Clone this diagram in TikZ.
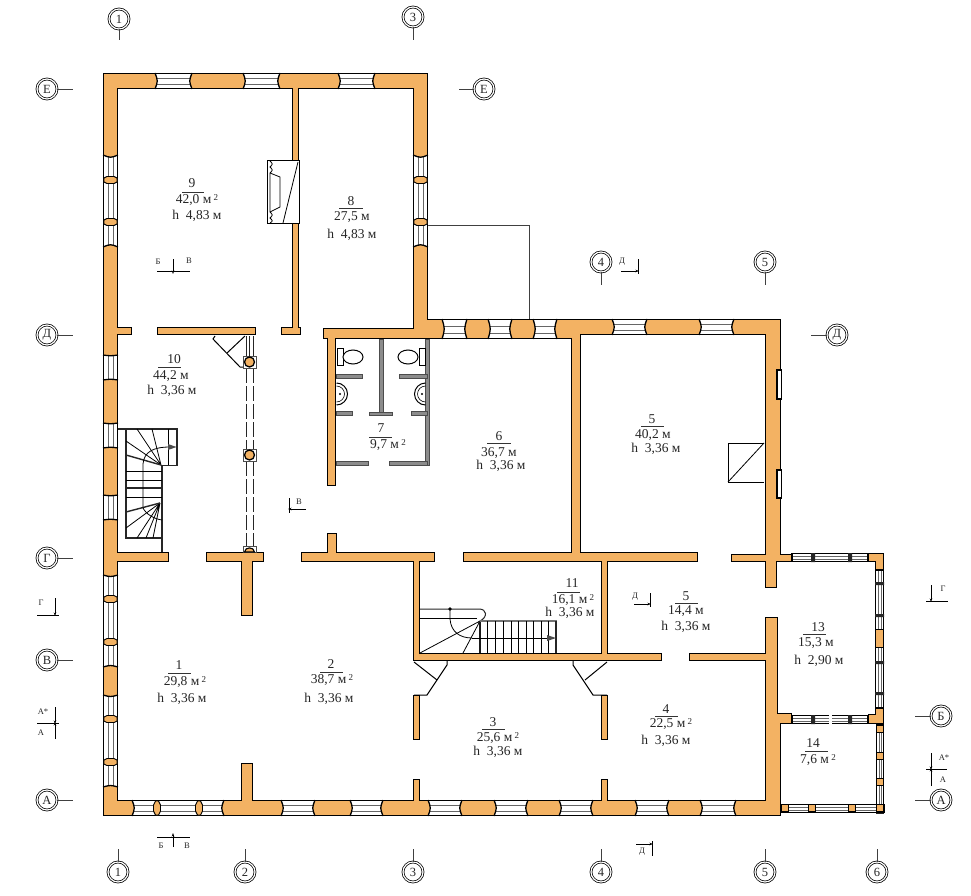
\documentclass[tikz,border=0pt]{standalone}
\usepackage{fontspec}
\setmainfont{Liberation Serif}
\usetikzlibrary{arrows.meta}
\definecolor{wallc}{HTML}{F3B263}
\definecolor{partc}{HTML}{8C8C8C}
\newcommand\sqm{\,\raisebox{3.5pt}{\fontsize{9}{9}\selectfont 2}}
\tikzset{
  x=1pt,y=-1pt,
  lbl/.style={inner sep=0pt,font=\fontsize{13.5}{14}\selectfont,text=black!85},
  seclbl/.style={inner sep=0pt,font=\fontsize{8.5}{9}\selectfont,text=black!85},
  axisnode/.style={circle,draw=black,line width=.75pt,double=white,double distance=1.2pt,
    minimum size=20pt,inner sep=0pt,fill=white,font=\fontsize{12.5}{13}\selectfont,text=black!85},
  axisline/.style={line width=.8pt,draw=black!75},
  secline/.style={line width=.75pt,draw=black},
  thinl/.style={line width=.8pt,draw=black},
  stairl/.style={line width=.8pt,draw=black},
  stairb/.style={line width=1.6pt,draw=black!85},
  tip/.style={-{Stealth[length=3.5pt,width=2.5pt]}},
}
% wall rectangles: two passes give a merged outline
\newcommand\wallset{%
 \R{103}{73}{428}{89}\R{103}{73}{118}{816}\R{413}{73}{428}{339}
 \R{292}{80}{299}{335}
 \R{103}{327}{132}{335}\R{157}{327}{256}{335}\R{281}{327}{301}{335}
 \R{323}{328}{442}{339}\R{327}{328}{336}{486}
 \R{413}{319}{581}{339}\R{570}{319}{781}{335}
 \R{571}{330}{581}{560}\R{765}{319}{781}{560}\R{765}{553}{777}{588}
 \R{103}{552}{169}{562}\R{206}{552}{264}{562}\R{241}{552}{253}{616}
 \R{301}{552}{435}{562}\R{327}{533}{337}{560}\R{413}{555}{420}{660}
 \R{463}{552}{698}{562}\R{601}{555}{608}{660}\R{731}{554}{792}{562}
 \R{413}{653}{662}{661}\R{689}{653}{770}{661}
 \R{765}{617}{778}{816}\R{765}{713}{781}{816}\R{770}{713}{792}{724}
 \R{413}{695}{420}{740}\R{601}{695}{608}{740}
 \R{103}{800}{781}{816}\R{241}{763}{253}{805}\R{413}{779}{420}{805}\R{601}{779}{608}{805}
 \R{868}{553}{884}{562}\R{875}{553}{884}{570}\R{875}{708}{884}{724}\R{868}{714}{884}{724}
}
% horizontal window: x1 x2 y1 y2 bulge
\newcommand\WinH[5]{%
 \path[fill=white] (#1,#3) .. controls (#1+#5,{(#3+#4)/2}) .. (#1,#4) -- (#2,#4) .. controls (#2-#5,{(#3+#4)/2}) .. (#2,#3) -- cycle;
 \draw[line width=.7pt,black!60] (#1+#5*.5,#3+.36*#4-.36*#3) -- (#2-#5*.5,#3+.36*#4-.36*#3)
   (#1+#5*.5,#3+.72*#4-.72*#3) -- (#2-#5*.5,#3+.72*#4-.72*#3);
 \draw[line width=1.5pt] (#1-1,#3+.7) -- (#2+1,#3+.7) (#1-1,#4-.7) -- (#2+1,#4-.7);
 \draw[line width=1.3pt] (#1,#3) .. controls (#1+#5,{(#3+#4)/2}) .. (#1,#4)
   (#2,#3) .. controls (#2-#5,{(#3+#4)/2}) .. (#2,#4);
}
% vertical window: y1 y2 x1 x2 bulge
\newcommand\WinV[5]{%
 \path[fill=white] (#3,#1) .. controls ({(#3+#4)/2},#1+#5) .. (#4,#1) -- (#4,#2) .. controls ({(#3+#4)/2},#2-#5) .. (#3,#2) -- cycle;
 \draw[line width=.7pt,black!60] (#3+.36*#4-.36*#3,#1+#5*.5) -- (#3+.36*#4-.36*#3,#2-#5*.5)
   (#3+.72*#4-.72*#3,#1+#5*.5) -- (#3+.72*#4-.72*#3,#2-#5*.5);
 \draw[line width=1.5pt] (#3+.7,#1-1) -- (#3+.7,#2+1) (#4-.7,#1-1) -- (#4-.7,#2+1);
 \draw[line width=1.3pt] (#3,#1) .. controls ({(#3+#4)/2},#1+#5) .. (#4,#1)
   (#3,#2) .. controls ({(#3+#4)/2},#2-#5) .. (#4,#2);
}
% small pier in a vertical wall: yc x1 x2
\newcommand\PierV[3]{%
 \filldraw[fill=wallc,draw=black,line width=.9pt] (#2+1,#1-2) -- (#2+4,#1-3.5) -- (#3-4,#1-3.5) -- (#3-1,#1-2) -- (#3-1,#1+2) -- (#3-4,#1+3.5) -- (#2+4,#1+3.5) -- (#2+1,#1+2) -- cycle;
}
% small pier in a horizontal wall: xc y1 y2
\newcommand\PierH[3]{%
 \filldraw[fill=wallc,draw=black,line width=.9pt] (#1-1.5,#2+1) -- (#1+1.5,#2+1) -- (#1+3.5,#2+5) -- (#1+3.5,#3-5) -- (#1+1.5,#3-1) -- (#1-1.5,#3-1) -- (#1-3.5,#3-5) -- (#1-3.5,#2+5) -- cycle;
}
\newcommand\SqP[2]{\filldraw[fill=wallc,draw=black,line width=.9pt] (#1-3.5,#2-3.5) rectangle (#1+3.5,#2+3.5);}
\newcommand\Lab[4]{\node[lbl] (#1) at (#2,#3) {#4};}
\newcommand\Sec[4]{\node[seclbl] (#1) at (#2,#3) {#4};}
\newcommand\Bar[3]{\draw[line width=.8pt,black!80] (#1,#3) -- (#2,#3);}
\newcommand\Axis[6]{\node[axisnode] (#1) at (#2,#3) {#4}; \coordinate (#1e) at (#5,#6); \draw[axisline] (#1) -- (#1e);}
\newcommand\Part[4]{\filldraw[fill=partc,draw=black!70,line width=.5pt] (#1,#2) rectangle (#3,#4);}
\begin{document}
\begin{tikzpicture}
\useasboundingbox (0,0) rectangle (971,896);
\fill[white] (0,0) rectangle (971,896);

% leader line
\draw[line width=.7pt,black!75] (428,225) -- (529,225) -- (529,320);

% walls
\begin{scope}
\def\R#1#2#3#4{\fill[black] (#1,#2) rectangle (#3,#4);}
\wallset
\def\R#1#2#3#4{\fill[wallc] (#1+1.4,#2+1.4) rectangle (#3-1.4,#4-1.4);}
\wallset
\end{scope}

% top row windows
\WinH{155}{192}{73}{89}{3}\WinH{243}{280}{73}{89}{3}\WinH{338}{375}{73}{89}{3}
% wing top windows
\WinH{442}{467}{319}{339}{3}\WinH{488}{512}{319}{339}{3}\WinH{533}{557}{319}{339}{3}
\WinH{612}{647}{319}{335}{3}\WinH{699}{734}{319}{335}{3}
% upper walls, side windows
\WinV{155}{247}{103}{118}{3}\PierV{180}{103}{118}\PierV{222}{103}{118}
\WinV{155}{247}{413}{428}{3}\PierV{180}{413}{428}\PierV{222}{413}{428}
% left wall
\WinV{355}{380}{103}{118}{1}\WinV{423}{448}{103}{118}{1}\WinV{495}{520}{103}{118}{1}
\WinV{575}{667}{103}{118}{2}\PierV{599}{103}{118}\PierV{642}{103}{118}
\WinV{695}{787}{103}{118}{2}\PierV{719}{103}{118}\PierV{762}{103}{118}
% bottom row
\WinH{132}{224}{800}{816}{3}\PierH{157}{800}{816}\PierH{199}{800}{816}
\WinH{281}{315}{800}{816}{3}\WinH{350}{383}{800}{816}{3}\WinH{428}{462}{800}{816}{3}
\WinH{494}{528}{800}{816}{3}\WinH{559}{593}{800}{816}{3}\WinH{635}{669}{800}{816}{3}\WinH{700}{736}{800}{816}{3}
% small windows in right wall of room 5
\filldraw[fill=white,draw=black,line width=1.2pt] (777,370) rectangle (781.5,399);
\filldraw[fill=white,draw=black,line width=1.2pt] (777,470) rectangle (781.5,498);
% pavilion
\WinH{792}{868}{553}{562}{0}
\fill[black!85] (811,553) rectangle (815,562) (848,553) rectangle (852,562);
\WinV{570}{708}{875}{884}{0}
\fill[black!85] (875,582) rectangle (884,585) (875,614) rectangle (884,617) (875,661) rectangle (884,664) (875,692) rectangle (884,695);
\filldraw[fill=wallc,draw=black,line width=1pt] (875.5,629) rectangle (883.5,647);
\WinH{792}{868}{715}{724}{0}
\fill[white] (828.5,714) rectangle (832,725);
\fill[black!85] (811,715) rectangle (815,724) (848,715) rectangle (852,724);
\WinV{724}{813}{876}{884}{0}
\WinH{781}{884}{804}{813}{0}
\SqP{880}{729}\SqP{880}{756}\SqP{880}{782}\SqP{880}{808}
\SqP{785}{808}\SqP{812}{808}\SqP{852}{808}

% fireplace
\filldraw[fill=white,draw=black,line width=1pt] (267,161) rectangle (299,223);
\draw[thinl] (270,161) .. controls (273,164) .. (270,167) .. controls (273,170) .. (270,173) -- (270,212)
  .. controls (273,215) .. (270,218) .. controls (273,221) .. (270,223);
\draw[thinl] (270,173) -- (280,177) -- (280,207) -- (270,212);
\draw[thinl] (298,162) -- (283,223);

% door leaves
\draw[thinl,line width=1pt] (215,336) -- (213,339) -- (240,367) -- (243,367);
\draw[thinl,line width=1pt] (245,336) -- (227,353);
\draw[thinl,line width=1pt] (447,661) -- (447,665) -- (427,695) -- (414,695);
\draw[thinl,line width=1pt] (414,662) -- (437,680);
\draw[thinl,line width=1pt] (573,661) -- (573,665) -- (593,695) -- (607,695);
\draw[thinl,line width=1pt] (607,662) -- (585,680);

% colonnade
\draw[line width=.8pt,black!85] (246,336) -- (246,356) (253,336) -- (253,356) (249.5,336) -- (249.5,356);
\draw[line width=.8pt,black!85,dash pattern=on 15pt off 3pt] (246,368) -- (246,449) (253,368) -- (253,449) (246,461) -- (246,546) (253,461) -- (253,546);
\filldraw[fill=white,draw=black!70,line width=.8pt] (243,356) rectangle (256,368);
\filldraw[fill=wallc,draw=black,line width=1.3pt] (249.5,362) circle (5);
\filldraw[fill=white,draw=black!70,line width=.8pt] (243,449) rectangle (256,461);
\filldraw[fill=wallc,draw=black,line width=1.3pt] (249.5,455) circle (5);
\filldraw[fill=white,draw=black!70,line width=.8pt] (243,546) rectangle (256,552);
\filldraw[fill=wallc,draw=black,line width=1.1pt] (244.5,552) .. controls (245,546.5) and (254,546.5) .. (254.5,552) -- cycle;

% stair left
\draw[line width=1.8pt,black!85] (118,429) -- (177,429) -- (177,465.5) -- (162,465.5) -- (162,552);
\draw[stairb,line width=1.2pt] (126,429) -- (126,538) -- (162,538);
\draw[stairl] (168,429) -- (168,465);
\draw[stairl] (126,471) -- (162,471) (126,480) -- (162,480) (126,497) -- (162,497);
\draw[line width=1.5pt,black!85] (126,488) -- (162,488);
\draw[stairl] (161,465) -- (126,441) (161,465) -- (137,429) (161,465) -- (152,429);
\draw[line width=1.4pt,black!85] (161,465) -- (126,455);
\draw[stairl] (143,497) -- (143,464) .. controls (144,452) and (153,447) .. (170,447);
\fill[black!70] (176.5,447) -- (168,444) -- (168,450) -- cycle;
\draw[stairl] (160,503) -- (126,528) (160,503) -- (137,538) (160,503) -- (146,538) (160,503) -- (153,538);
\draw[line width=1.4pt,black!85] (160,503) -- (126,512);
\draw[stairl] (143,497) -- (143,508) .. controls (146,514) and (154,519) .. (162,520);

% stair 11
\draw[line width=1pt,black!85] (420,609) -- (479,609) .. controls (487,609) and (488,617) .. (480,621);
\draw[stairl] (420,618) -- (477,618);
\fill[black] (450,609) circle (1.8);
\draw[stairl] (450,609) -- (450,619) .. controls (451,632) and (460,638) .. (472,638);
\draw[stairl] (480,621) -- (420,653) (480,621) -- (463,653);
\draw[line width=1.7pt,black!90] (480,621) -- (480,653);
\draw[line width=2.2pt,black!55] (480,621) -- (556.5,621);
\foreach \sx in {487,495,503,511,518,526,533,541,548}{\draw[stairl] (\sx,621) -- (\sx,653);}
\draw[line width=1.2pt,black!85] (556,621) -- (556,653);
\draw[stairl] (472,638) -- (548,638);
\fill[black!70] (556,638) -- (547,635) -- (547,641) -- cycle;

% lavatory partitions
\Part{379.5}{339}{383}{414}\Part{369}{412}{392}{415}
\Part{425.5}{339}{429}{465}
\Part{336}{374.5}{362}{378}\Part{336}{411.5}{352}{415}
\Part{399}{374.5}{427}{378}\Part{411}{411.5}{427}{415}
\Part{336}{461.5}{368}{465}\Part{389}{461.5}{427}{465}
% fixtures
\filldraw[fill=white,draw=black,line width=1pt] (337,348) rectangle (343,365);
\filldraw[fill=white,draw=black,line width=1pt] (353,357) ellipse (10 and 7);
\filldraw[fill=white,draw=black,line width=1pt] (419,348) rectangle (425,365);
\filldraw[fill=white,draw=black,line width=1pt] (408,357) ellipse (10 and 7);
\draw[line width=1pt] (336.5,405) arc (90:-90:11);
\draw[line width=.6pt] (336.5,402) arc (90:-90:8);
\fill (340,394) circle (1.2);
\draw[line width=1pt] (425.5,405) arc (90:270:11);
\draw[line width=.6pt] (425.5,402) arc (90:270:8);
\fill (422,394) circle (1.2);

% room 5 shaft
\draw[line width=1pt] (764,443) -- (728,443) -- (728,482) -- (764,482);
\draw[thinl] (728,482) -- (764,443);

% room labels
\Lab{n9}{192}{183}{9}\Bar{182}{204}{192}\Lab{a9}{197}{200}{42,0 м\sqm}\Lab{h9}{197}{216}{h~~4,83 м}
\Lab{n8}{351}{201}{8}\Bar{339}{363}{208}\Lab{a8}{352}{217}{27,5 м}\Lab{h8}{352}{235}{h~~4,83 м}
\Lab{n10}{174}{359}{10}\Bar{158}{181}{367}\Lab{a10}{171}{376}{44,2 м}\Lab{h10}{172}{391}{h~~3,36 м}
\Lab{n7}{381}{428}{7}\Bar{369}{392}{437}\Lab{a7}{388}{445}{9,7 м\sqm}
\Lab{n6}{499}{436}{6}\Bar{487}{511}{443}\Lab{a6}{499}{453}{36,7 м}\Lab{h6}{501}{466}{h~~3,36 м}
\Lab{n5a}{652}{419}{5}\Bar{641}{664}{426}\Lab{a5a}{653}{435}{40,2 м}\Lab{h5a}{656}{449}{h~~3,36 м}
\Lab{n11}{572}{583}{11}\Bar{557}{580}{592}\Lab{a11}{573}{600}{16,1 м\sqm}\Lab{h11}{570}{613}{h~~3,36 м}
\Lab{n5b}{686}{596}{5}\Bar{675}{698}{603}\Lab{a5b}{686}{611}{14,4 м}\Lab{h5b}{686}{627}{h~~3,36 м}
\Lab{n3}{493}{722}{3}\Bar{482}{505}{729}\Lab{a3}{498}{738}{25,6 м\sqm}\Lab{h3}{498}{752}{h~~3,36 м}
\Lab{n4}{666}{709}{4}\Bar{655}{678}{716}\Lab{a4}{671}{724}{22,5 м\sqm}\Lab{h4}{666}{741}{h~~3,36 м}
\Lab{n13}{818}{627}{13}\Bar{803}{826}{634}\Lab{a13}{816}{643}{15,3 м}\Lab{h13}{819}{661}{h~~2,90 м}
\Lab{n14}{813}{743}{14}\Bar{805}{828}{751}\Lab{a14}{818}{760}{7,6 м\sqm}
\Lab{n1}{179}{665}{1}\Bar{168}{191}{673}\Lab{a1}{185}{682}{29,8 м\sqm}\Lab{h1}{182}{699}{h~~3,36 м}
\Lab{n2}{331}{664}{2}\Bar{320}{343}{672}\Lab{a2}{332}{680}{38,7 м\sqm}\Lab{h2}{329}{699}{h~~3,36 м}

% axis markers
\Axis{tA}{119}{19}{1}{119}{40}
\Axis{tB}{413}{17}{3}{413}{40}
\Axis{eL}{47}{89}{Е}{73}{89}
\Axis{eR}{484}{89}{Е}{459}{89}
\Axis{dL}{47}{335}{Д}{73}{335}
\Axis{dR}{837}{335}{Д}{811}{335}
\Axis{gL}{47}{558}{Г}{73}{558}
\Axis{vL}{47}{660}{В}{73}{660}
\Axis{aL}{47}{800}{А}{73}{800}
\Axis{m4}{601}{262}{4}{601}{285}
\Axis{m5}{765}{262}{5}{765}{285}
\Axis{bR}{941}{716}{Б}{915}{716}
\Axis{aR}{941}{800}{А}{915}{800}
\Axis{b1}{118}{872}{1}{118}{849}
\Axis{b2}{245}{872}{2}{245}{849}
\Axis{b3}{413}{872}{3}{413}{849}
\Axis{b4}{601}{872}{4}{601}{849}
\Axis{b5}{765}{872}{5}{765}{849}
\Axis{b6}{877}{872}{6}{877}{849}

% section marks
\draw[secline] (157,271) -- (190,271); \draw[secline,tip] (173,259) -- (173,274);
\Sec{s1}{158}{262}{Б}\Sec{s2}{189}{261}{В}
\draw[secline] (157,837) -- (190,837); \draw[secline,tip] (173,847) -- (173,833);
\Sec{s3}{161}{846}{Б}\Sec{s4}{187}{846}{В}
\draw[secline] (289,498) -- (289,513); \draw[secline,tip] (306,509) -- (288,509);
\Sec{s5}{299}{502}{В}
\draw[secline] (638,259) -- (638,274); \draw[secline,tip] (621,271) -- (639,271);
\Sec{s6}{622}{262}{Д}
\draw[secline] (650,593) -- (650,607); \draw[secline,tip] (634,604) -- (651,604);
\Sec{s7}{635}{597}{Д}
\draw[secline] (652,841) -- (652,856); \draw[secline,tip] (636,844) -- (653,844);
\Sec{s8}{642}{852}{Д}
\draw[secline] (37,615) -- (59,615); \draw[secline,tip] (55,598) -- (55,616);
\Sec{s9}{41}{603}{Г}
\draw[secline] (37,723) -- (59,723); \draw[secline,tip] (55,707) -- (55,724); \draw[secline,tip] (55,739) -- (55,722);
\Sec{s10}{43}{712}{А*}\Sec{s11}{41}{733}{А}
\draw[secline] (926,601) -- (948,601); \draw[secline,tip] (931,585) -- (931,602);
\Sec{s12}{943}{589}{Г}
\draw[secline] (926,769) -- (947,769); \draw[secline,tip] (931,753) -- (931,770); \draw[secline,tip] (931,786) -- (931,768);
\Sec{s13}{944}{758}{А*}\Sec{s14}{943}{780}{А}
\end{tikzpicture}
\end{document}
